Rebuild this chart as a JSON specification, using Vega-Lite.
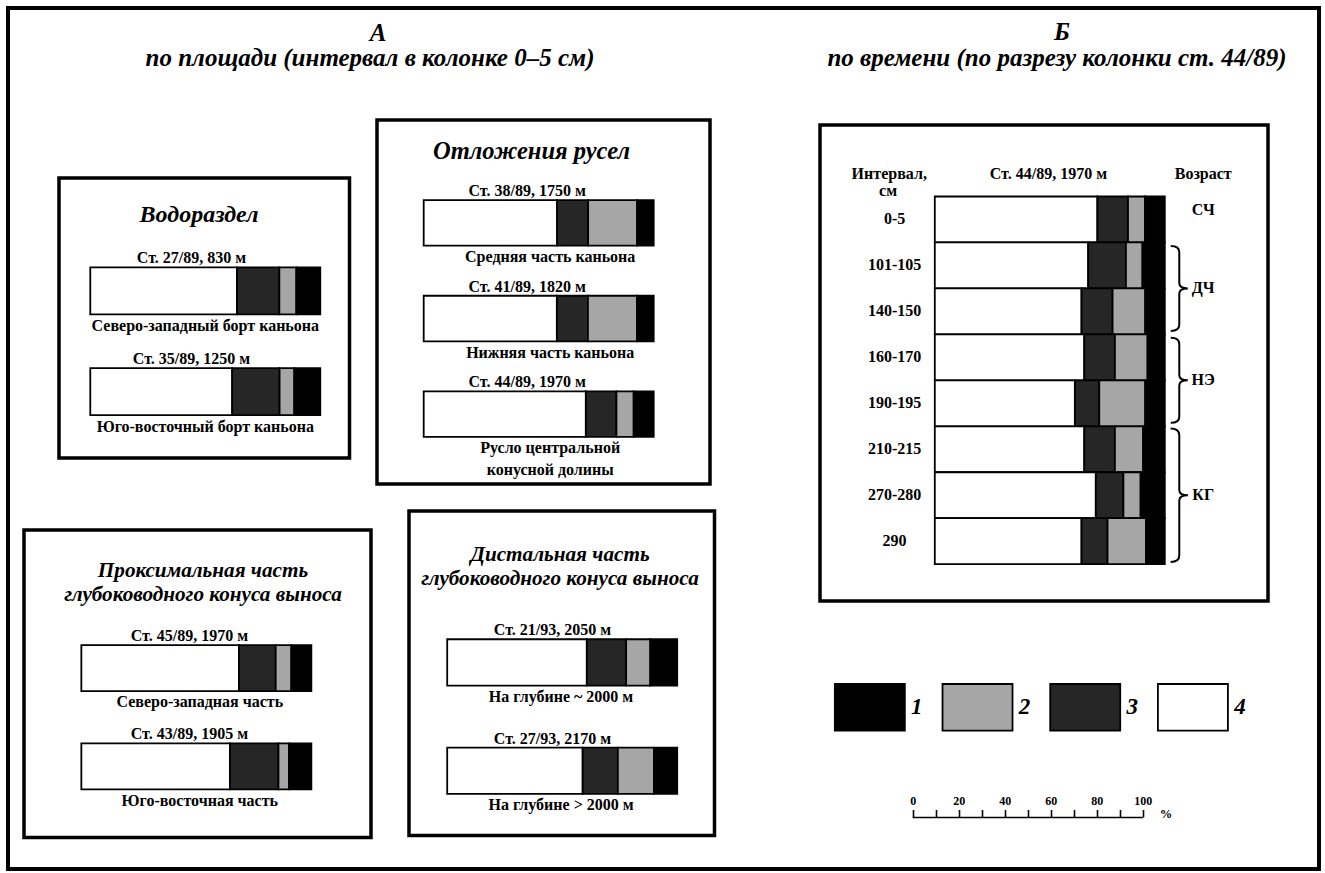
{
"$schema": "https://vega.github.io/schema/vega-lite/v6.json",
"background": "white",
"padding": {"left": 6, "top": 6, "right": 0, "bottom": 0},
"spacing": 0,
"datasets": {"bars": [
{"panel":"vod","station":"Ст. 27/89, 830 м","place":"Северо-западный борт каньона","component":"4","value":63.8},
{"panel":"vod","station":"Ст. 27/89, 830 м","place":"Северо-западный борт каньона","component":"3","value":18.4},
{"panel":"vod","station":"Ст. 27/89, 830 м","place":"Северо-западный борт каньона","component":"2","value":7.4},
{"panel":"vod","station":"Ст. 27/89, 830 м","place":"Северо-западный борт каньона","component":"1","value":10.4},
{"panel":"vod","station":"Ст. 35/89, 1250 м","place":"Юго-восточный борт каньона","component":"4","value":61.7},
{"panel":"vod","station":"Ст. 35/89, 1250 м","place":"Юго-восточный борт каньона","component":"3","value":20.6},
{"panel":"vod","station":"Ст. 35/89, 1250 м","place":"Юго-восточный борт каньона","component":"2","value":6.4},
{"panel":"vod","station":"Ст. 35/89, 1250 м","place":"Юго-восточный борт каньона","component":"1","value":11.3},
{"panel":"otl","station":"Ст. 38/89, 1750 м","place":"Средняя часть каньона","component":"4","value":58.0},
{"panel":"otl","station":"Ст. 38/89, 1750 м","place":"Средняя часть каньона","component":"3","value":13.5},
{"panel":"otl","station":"Ст. 38/89, 1750 м","place":"Средняя часть каньона","component":"2","value":21.3},
{"panel":"otl","station":"Ст. 38/89, 1750 м","place":"Средняя часть каньона","component":"1","value":7.2},
{"panel":"otl","station":"Ст. 41/89, 1820 м","place":"Нижняя часть каньона","component":"4","value":57.9},
{"panel":"otl","station":"Ст. 41/89, 1820 м","place":"Нижняя часть каньона","component":"3","value":13.5},
{"panel":"otl","station":"Ст. 41/89, 1820 м","place":"Нижняя часть каньона","component":"2","value":21.3},
{"panel":"otl","station":"Ст. 41/89, 1820 м","place":"Нижняя часть каньона","component":"1","value":7.3},
{"panel":"otl","station":"Ст. 44/89, 1970 м","place":"Русло центральной\nконусной долины","component":"4","value":70.5},
{"panel":"otl","station":"Ст. 44/89, 1970 м","place":"Русло центральной\nконусной долины","component":"3","value":13.3},
{"panel":"otl","station":"Ст. 44/89, 1970 м","place":"Русло центральной\nконусной долины","component":"2","value":7.5},
{"panel":"otl","station":"Ст. 44/89, 1970 м","place":"Русло центральной\nконусной долины","component":"1","value":8.7},
{"panel":"prox","station":"Ст. 45/89, 1970 м","place":"Северо-западная часть","component":"4","value":68.5},
{"panel":"prox","station":"Ст. 45/89, 1970 м","place":"Северо-западная часть","component":"3","value":16.0},
{"panel":"prox","station":"Ст. 45/89, 1970 м","place":"Северо-западная часть","component":"2","value":6.8},
{"panel":"prox","station":"Ст. 45/89, 1970 м","place":"Северо-западная часть","component":"1","value":8.7},
{"panel":"prox","station":"Ст. 43/89, 1905 м","place":"Юго-восточная часть","component":"4","value":64.6},
{"panel":"prox","station":"Ст. 43/89, 1905 м","place":"Юго-восточная часть","component":"3","value":21.1},
{"panel":"prox","station":"Ст. 43/89, 1905 м","place":"Юго-восточная часть","component":"2","value":4.6},
{"panel":"prox","station":"Ст. 43/89, 1905 м","place":"Юго-восточная часть","component":"1","value":9.7},
{"panel":"dist","station":"Ст. 21/93, 2050 м","place":"На глубине ~ 2000 м","component":"4","value":60.7},
{"panel":"dist","station":"Ст. 21/93, 2050 м","place":"На глубине ~ 2000 м","component":"3","value":17.1},
{"panel":"dist","station":"Ст. 21/93, 2050 м","place":"На глубине ~ 2000 м","component":"2","value":10.5},
{"panel":"dist","station":"Ст. 21/93, 2050 м","place":"На глубине ~ 2000 м","component":"1","value":11.7},
{"panel":"dist","station":"Ст. 27/93, 2170 м","place":"На глубине > 2000 м","component":"4","value":58.9},
{"panel":"dist","station":"Ст. 27/93, 2170 м","place":"На глубине > 2000 м","component":"3","value":15.3},
{"panel":"dist","station":"Ст. 27/93, 2170 м","place":"На глубине > 2000 м","component":"2","value":15.7},
{"panel":"dist","station":"Ст. 27/93, 2170 м","place":"На глубине > 2000 м","component":"1","value":10.1},
{"panel":"time","station":"0-5","place":"СЧ","component":"4","value":70.7},
{"panel":"time","station":"0-5","place":"СЧ","component":"3","value":13.3},
{"panel":"time","station":"0-5","place":"СЧ","component":"2","value":7.4},
{"panel":"time","station":"0-5","place":"СЧ","component":"1","value":8.6},
{"panel":"time","station":"101-105","place":"ДЧ","component":"4","value":66.7},
{"panel":"time","station":"101-105","place":"ДЧ","component":"3","value":16.4},
{"panel":"time","station":"101-105","place":"ДЧ","component":"2","value":7.2},
{"panel":"time","station":"101-105","place":"ДЧ","component":"1","value":9.7},
{"panel":"time","station":"140-150","place":"ДЧ","component":"4","value":63.8},
{"panel":"time","station":"140-150","place":"ДЧ","component":"3","value":13.5},
{"panel":"time","station":"140-150","place":"ДЧ","component":"2","value":14.2},
{"panel":"time","station":"140-150","place":"ДЧ","component":"1","value":8.5},
{"panel":"time","station":"160-170","place":"НЭ","component":"4","value":65.0},
{"panel":"time","station":"160-170","place":"НЭ","component":"3","value":13.3},
{"panel":"time","station":"160-170","place":"НЭ","component":"2","value":14.2},
{"panel":"time","station":"160-170","place":"НЭ","component":"1","value":7.5},
{"panel":"time","station":"190-195","place":"НЭ","component":"4","value":60.9},
{"panel":"time","station":"190-195","place":"НЭ","component":"3","value":10.6},
{"panel":"time","station":"190-195","place":"НЭ","component":"2","value":20.0},
{"panel":"time","station":"190-195","place":"НЭ","component":"1","value":8.5},
{"panel":"time","station":"210-215","place":"КГ","component":"4","value":65.0},
{"panel":"time","station":"210-215","place":"КГ","component":"3","value":13.3},
{"panel":"time","station":"210-215","place":"КГ","component":"2","value":12.3},
{"panel":"time","station":"210-215","place":"КГ","component":"1","value":9.4},
{"panel":"time","station":"270-280","place":"КГ","component":"4","value":70.0},
{"panel":"time","station":"270-280","place":"КГ","component":"3","value":12.0},
{"panel":"time","station":"270-280","place":"КГ","component":"2","value":7.5},
{"panel":"time","station":"270-280","place":"КГ","component":"1","value":10.5},
{"panel":"time","station":"290","place":"КГ","component":"4","value":63.8},
{"panel":"time","station":"290","place":"КГ","component":"3","value":11.3},
{"panel":"time","station":"290","place":"КГ","component":"2","value":16.7},
{"panel":"time","station":"290","place":"КГ","component":"1","value":8.2}
]},
"config": {
"view": {"stroke": null},
"text": {"font": "Liberation Serif", "fontWeight": "bold", "fontSize": 16, "color": "black", "lineBreak": "\n"},
"title": {"font": "Liberation Serif", "fontSize": 22.5, "fontStyle": "italic", "fontWeight": "bold", "color": "black", "baseline": "top", "anchor": "middle", "lineHeight": 24},
"bar": {"stroke": "black", "strokeWidth": 1.8}
},
"vconcat": [
{"width": 1315, "height": 4, "view": {"fill": "black"}, "data": {"values": [{}]}, "mark": {"type": "point", "opacity": 0, "size": 0}, "encoding": {}},
{"spacing": 0, "hconcat": [
 {"width": 4, "height": 857, "view": {"fill": "black"}, "data": {"values": [{}]}, "mark": {"type": "point", "opacity": 0, "size": 0}, "encoding": {}},
 {"spacing": 0, "vconcat": [
  {"spacing": 69, "hconcat": [
   {"width": 720, "height": 67, "data": {"values": [{}]}, "layer": [
     {"mark": {"type": "text", "fontSize": 25, "fontStyle": "italic", "baseline": "middle", "dy": -10.5, "dx": 8}, "encoding": {"text": {"value": "А"}}},
     {"mark": {"type": "text", "fontSize": 25, "fontStyle": "italic", "baseline": "middle", "dy": 14.2}, "encoding": {"text": {"value": "по площади (интервал в колонке 0–5 см)"}}}
   ]},
   {"width": 518, "height": 67, "data": {"values": [{}]}, "layer": [
     {"mark": {"type": "text", "fontSize": 25, "fontStyle": "italic", "baseline": "middle", "dy": -11.3, "dx": 4}, "encoding": {"text": {"value": "Б"}}},
     {"mark": {"type": "text", "fontSize": 25, "fontStyle": "italic", "baseline": "middle", "dy": 14.2, "dx": -1}, "encoding": {"text": {"value": "по времени (по разрезу колонки  ст. 44/89)"}}}
   ]}
  ]},
  {"spacing": 0, "hconcat": [
   {"spacing": 0, "hconcat": [
    {"width": 11.25, "height": 1, "data": {"values": [{}]}, "mark": {"type": "point", "opacity": 0, "size": 0}, "encoding": {}},
    {"spacing": 0, "vconcat": [
     {"width": 1, "height": 98.75, "data": {"values": [{}]}, "mark": {"type": "point", "opacity": 0, "size": 0}, "encoding": {}},
     {"spacing": 0, "hconcat": [
      {"width": 32.5, "height": 1, "data": {"values": [{}]}, "mark": {"type": "point", "opacity": 0, "size": 0}, "encoding": {}},
      {"width": 290.5, "height": 280, "view": {"stroke": "black", "strokeWidth": 3.5},
       "title": {"text": "Водораздел", "offset": -49, "dx": -5.25, "fontSize": 24},
       "data": {"name": "bars"}, "transform": [{"filter": "datum.panel === 'vod'"}],
       "encoding": {"y": {"field": "station", "type": "nominal", "sort": null, "axis": null, "scale": {"paddingInner": 0.533, "paddingOuter": 0.657, "align": 0.676}}},
       "layer": [
        {"mark": {"type": "bar"}, "encoding": {"x": {"field": "value", "type": "quantitative", "stack": "zero", "axis": null, "scale": {"domain": [-13.6, 112.7], "nice": false, "zero": false}}, "color": {"field": "component", "type": "nominal", "scale": {"domain": ["1","2","3","4"], "range": ["#000000","#a6a6a6","#262626","#ffffff"]}, "legend": null}, "order": {"field": "component", "type": "ordinal", "sort": "descending"}}},
        {"transform": [{"filter": "datum.component === '1'"}], "mark": {"type": "text", "baseline": "middle", "dy": -9}, "encoding": {"y": {"field": "station", "type": "nominal", "sort": null, "bandPosition": 0}, "x": {"datum": 44}, "text": {"field": "station"}}},
        {"transform": [{"filter": "datum.component === '1'"}], "mark": {"type": "text", "baseline": "top", "dy": 3.4, "lineHeight": 21.6}, "encoding": {"y": {"field": "station", "type": "nominal", "sort": null, "bandPosition": 1}, "x": {"datum": 50}, "text": {"field": "place"}}}
       ]}
     ]},
     {"width": 1, "height": 68, "data": {"values": [{}]}, "mark": {"type": "point", "opacity": 0, "size": 0}, "encoding": {}},
     {"width": 347, "height": 307.5, "view": {"stroke": "black", "strokeWidth": 3.5},
      "title": {"text": ["Проксимальная часть", "глубоководного конуса выноса"], "offset": -74.8, "dx": 5.5, "fontSize": 21.2},
      "data": {"name": "bars"}, "transform": [{"filter": "datum.panel === 'prox'"}],
      "encoding": {"y": {"field": "station", "type": "nominal", "sort": null, "axis": null, "scale": {"paddingInner": 0.532, "paddingOuter": 0.83, "align": 0.705}}},
      "layer": [
       {"mark": {"type": "bar"}, "encoding": {"x": {"field": "value", "type": "quantitative", "stack": "zero", "axis": null, "scale": {"domain": [-24.93, 125.93], "nice": false, "zero": false}}, "color": {"field": "component", "type": "nominal", "scale": {"domain": ["1","2","3","4"], "range": ["#000000","#a6a6a6","#262626","#ffffff"]}, "legend": null}, "order": {"field": "component", "type": "ordinal", "sort": "descending"}}},
       {"transform": [{"filter": "datum.component === '1'"}], "mark": {"type": "text", "baseline": "middle", "dy": -9}, "encoding": {"y": {"field": "station", "type": "nominal", "sort": null, "bandPosition": 0}, "x": {"datum": 47}, "text": {"field": "station"}}},
       {"transform": [{"filter": "datum.component === '1'"}], "mark": {"type": "text", "baseline": "top", "dy": 3.4, "lineHeight": 21.6}, "encoding": {"y": {"field": "station", "type": "nominal", "sort": null, "bandPosition": 1}, "x": {"datum": 51.5}, "text": {"field": "place"}}}
      ]}
    ]},
    {"width": 1.5, "height": 1, "data": {"values": [{}]}, "mark": {"type": "point", "opacity": 0, "size": 0}, "encoding": {}},
    {"spacing": 0, "vconcat": [
     {"width": 1, "height": 40.75, "data": {"values": [{}]}, "mark": {"type": "point", "opacity": 0, "size": 0}, "encoding": {}},
     {"width": 333, "height": 364, "view": {"stroke": "black", "strokeWidth": 3.5},
      "title": {"text": "Отложения русел", "offset": -44.5, "dx": -12, "fontSize": 24.5},
      "data": {"name": "bars"}, "transform": [{"filter": "datum.panel === 'otl'"}],
      "encoding": {"y": {"field": "station", "type": "nominal", "sort": null, "axis": null, "scale": {"paddingInner": 0.524, "paddingOuter": 0.665, "align": 0.63}}},
      "layer": [
       {"mark": {"type": "bar"}, "encoding": {"x": {"field": "value", "type": "quantitative", "stack": "zero", "axis": null, "scale": {"domain": [-20.3, 124.48], "nice": false, "zero": false}}, "color": {"field": "component", "type": "nominal", "scale": {"domain": ["1","2","3","4"], "range": ["#000000","#a6a6a6","#262626","#ffffff"]}, "legend": null}, "order": {"field": "component", "type": "ordinal", "sort": "descending"}}},
       {"transform": [{"filter": "datum.component === '1'"}], "mark": {"type": "text", "baseline": "middle", "dy": -9}, "encoding": {"y": {"field": "station", "type": "nominal", "sort": null, "bandPosition": 0}, "x": {"datum": 45}, "text": {"field": "station"}}},
       {"transform": [{"filter": "datum.component === '1'"}], "mark": {"type": "text", "baseline": "top", "dy": 3.4, "lineHeight": 21.6}, "encoding": {"y": {"field": "station", "type": "nominal", "sort": null, "bandPosition": 1}, "x": {"datum": 55}, "text": {"field": "place"}}}
      ]},
     {"width": 1, "height": 23, "data": {"values": [{}]}, "mark": {"type": "point", "opacity": 0, "size": 0}, "encoding": {}},
     {"spacing": 0, "hconcat": [
      {"width": 29.5, "height": 1, "data": {"values": [{}]}, "mark": {"type": "point", "opacity": 0, "size": 0}, "encoding": {}},
      {"width": 305.5, "height": 324.5, "view": {"stroke": "black", "strokeWidth": 3.5},
       "title": {"text": ["Дистальная часть", "глубоководного конуса выноса"], "offset": -77.8, "dx": -1.75, "fontSize": 21.2},
       "data": {"name": "bars"}, "transform": [{"filter": "datum.panel === 'dist'"}],
       "encoding": {"y": {"field": "station", "type": "nominal", "sort": null, "axis": null, "scale": {"paddingInner": 0.5725, "paddingOuter": 0.784, "align": 0.755}}},
       "layer": [
        {"mark": {"type": "bar"}, "encoding": {"x": {"field": "value", "type": "quantitative", "stack": "zero", "axis": null, "scale": {"domain": [-16.61, 116.22], "nice": false, "zero": false}}, "color": {"field": "component", "type": "nominal", "scale": {"domain": ["1","2","3","4"], "range": ["#000000","#a6a6a6","#262626","#ffffff"]}, "legend": null}, "order": {"field": "component", "type": "ordinal", "sort": "descending"}}},
        {"transform": [{"filter": "datum.component === '1'"}], "mark": {"type": "text", "baseline": "middle", "dy": -9}, "encoding": {"y": {"field": "station", "type": "nominal", "sort": null, "bandPosition": 0}, "x": {"datum": 45.8}, "text": {"field": "station"}}},
        {"transform": [{"filter": "datum.component === '1'"}], "mark": {"type": "text", "baseline": "top", "dy": 3.4, "lineHeight": 21.6}, "encoding": {"y": {"field": "station", "type": "nominal", "sort": null, "bandPosition": 1}, "x": {"datum": 49.5}, "text": {"field": "place"}}}
       ]}
     ]}
    ]}
   ]},
   {"spacing": 0, "hconcat": [
    {"width": 101, "height": 1, "data": {"values": [{}]}, "mark": {"type": "point", "opacity": 0, "size": 0}, "encoding": {}},
    {"spacing": 0, "bounds": "flush", "vconcat": [
     {"width": 1, "height": 47.5, "data": {"values": [{}]}, "mark": {"type": "point", "opacity": 0, "size": 0}, "encoding": {}},
     {"width": 448, "height": 476, "view": {"stroke": "black", "strokeWidth": 3.5},
      "data": {"name": "bars"}, "transform": [{"filter": "datum.panel === 'time'"}],
      "encoding": {"y": {"field": "station", "type": "nominal", "sort": null, "axis": null, "scale": {"domain": ["hdr","0-5","101-105","140-150","160-170","190-195","210-215","270-280","290"], "paddingInner": 0, "paddingOuter": 0.6785, "align": 0.4096}}},
      "layer": [
       {"mark": {"type": "bar"}, "encoding": {"x": {"field": "value", "type": "quantitative", "stack": "zero", "axis": null, "scale": {"domain": [-49.91, 144.87], "nice": false, "zero": false}}, "color": {"field": "component", "type": "nominal", "scale": {"domain": ["1","2","3","4"], "range": ["#000000","#a6a6a6","#262626","#ffffff"]}, "legend": null}, "order": {"field": "component", "type": "ordinal", "sort": "descending"}}},
       {"transform": [{"filter": "datum.component === '1'"}], "mark": {"type": "text", "baseline": "middle"}, "encoding": {"x": {"datum": -17.5}, "text": {"field": "station"}}},
       {"transform": [{"filter": "datum.component === '1' && datum.station === '0-5'"}], "mark": {"type": "text", "baseline": "middle", "dy": -22.3}, "encoding": {"y": {"field": "station", "type": "nominal", "sort": null, "bandPosition": 0}, "x": {"datum": -19.8}, "text": {"value": "Интервал,"}}},
       {"transform": [{"filter": "datum.component === '1' && datum.station === '0-5'"}], "mark": {"type": "text", "baseline": "middle", "dy": -5.7}, "encoding": {"y": {"field": "station", "type": "nominal", "sort": null, "bandPosition": 0}, "x": {"datum": -20.3}, "text": {"value": "см"}}},
       {"transform": [{"filter": "datum.component === '1' && datum.station === '0-5'"}], "mark": {"type": "text", "baseline": "middle", "dy": -22.3}, "encoding": {"y": {"field": "station", "type": "nominal", "sort": null, "bandPosition": 0}, "x": {"datum": 49.4}, "text": {"value": "Ст. 44/89, 1970 м"}}},
       {"transform": [{"filter": "datum.component === '1' && datum.station === '0-5'"}], "mark": {"type": "text", "baseline": "middle", "dy": -22.3}, "encoding": {"y": {"field": "station", "type": "nominal", "sort": null, "bandPosition": 0}, "x": {"datum": 116.7}, "text": {"value": "Возраст"}}},
       {"transform": [{"filter": "datum.component === '1' && datum.station === '0-5'"}], "mark": {"type": "text", "baseline": "middle", "dy": -9.7}, "encoding": {"x": {"datum": 116.7}, "text": {"field": "place"}}},
       {"transform": [{"filter": "datum.component === '1' && (datum.station === '140-150' || datum.station === '190-195')"}], "mark": {"type": "text", "baseline": "middle"}, "encoding": {"y": {"field": "station", "type": "nominal", "sort": null, "bandPosition": 0}, "x": {"datum": 116.7}, "text": {"field": "place"}}},
       {"transform": [{"filter": "datum.component === '1' && datum.station === '270-280'"}], "mark": {"type": "text", "baseline": "middle"}, "encoding": {"x": {"datum": 116.7}, "text": {"field": "place"}}},
       {"transform": [{"filter": "datum.component === '1' && (datum.station === '140-150' || datum.station === '190-195')"}], "mark": {"type": "point", "shape": "M-0.2,-1 Q0,-1 0,-0.85 L0,-0.12 Q0,0 0.2,0 Q0,0 0,0.12 L0,0.85 Q0,1 -0.2,1", "size": 7225, "filled": false, "color": "black", "strokeWidth": 2, "opacity": 1}, "encoding": {"y": {"field": "station", "type": "nominal", "sort": null, "bandPosition": 0}, "x": {"datum": 106.3}}},
       {"transform": [{"filter": "datum.component === '1' && datum.station === '270-280'"}], "mark": {"type": "point", "shape": "M-0.13,-1 Q0,-1 0,-0.9 L0,-0.08 Q0,0 0.13,0 Q0,0 0,0.08 L0,0.9 Q0,1 -0.13,1", "size": 17769, "filled": false, "color": "black", "strokeWidth": 2, "opacity": 1}, "encoding": {"x": {"datum": 106.3}}}
      ]},
     {"width": 1, "height": 82.2, "data": {"values": [{}]}, "mark": {"type": "point", "opacity": 0, "size": 0}, "encoding": {}},
     {"width": 448, "height": 46.6, "data": {"values": [{"component": "1"}, {"component": "2"}, {"component": "3"}, {"component": "4"}]},
      "layer": [
       {"mark": {"type": "bar"}, "encoding": {"x": {"field": "component", "type": "nominal", "axis": null, "scale": {"paddingInner": 0.35, "paddingOuter": 0.255, "align": 0.27}}, "color": {"field": "component", "type": "nominal", "scale": {"domain": ["1","2","3","4"], "range": ["#000000","#a6a6a6","#262626","#ffffff"]}, "legend": null}}},
       {"mark": {"type": "text", "fontStyle": "italic", "fontSize": 23, "align": "center", "baseline": "middle", "dx": 12}, "encoding": {"x": {"field": "component", "type": "nominal", "bandPosition": 1}, "text": {"field": "component"}}}
      ]},
     {"width": 1, "height": 85.7, "data": {"values": [{}]}, "mark": {"type": "point", "opacity": 0, "size": 0}, "encoding": {}},
     {"width": 448, "height": 1, "data": {"values": [{}]},
      "mark": {"type": "rule", "color": "black", "strokeWidth": 1.6},
      "encoding": {
       "x": {"datum": 0, "type": "quantitative", "scale": {"domain": [-40.35, 154.43], "nice": false, "zero": false},
        "axis": {"orient": "top", "values": [0,10,20,30,40,50,60,70,80,90,100], "domain": false, "grid": false, "tickSize": 7.5, "tickWidth": 1.6, "tickColor": "black", "labelExpr": "datum.value % 20 === 0 ? datum.label : ''", "format": "d", "labelFont": "Liberation Serif", "labelFontWeight": "bold", "labelFontSize": 12, "labelColor": "black", "labelPadding": 2, "labelOverlap": false, "labelFlush": false, "title": "%", "titleAngle": 0, "titleX": 345.5, "titleY": -3.3, "titleFont": "Liberation Serif", "titleFontSize": 12.5, "titleFontWeight": "bold", "titleAlign": "center", "titleBaseline": "middle", "titleColor": "black"}},
       "x2": {"datum": 100}
      }}
    ]}
   ]}
  ]}
 ]},
 {"width": 4, "height": 857, "view": {"fill": "black"}, "data": {"values": [{}]}, "mark": {"type": "point", "opacity": 0, "size": 0}, "encoding": {}}
]},
{"width": 1315, "height": 4, "view": {"fill": "black"}, "data": {"values": [{}]}, "mark": {"type": "point", "opacity": 0, "size": 0}, "encoding": {}}
]
}
